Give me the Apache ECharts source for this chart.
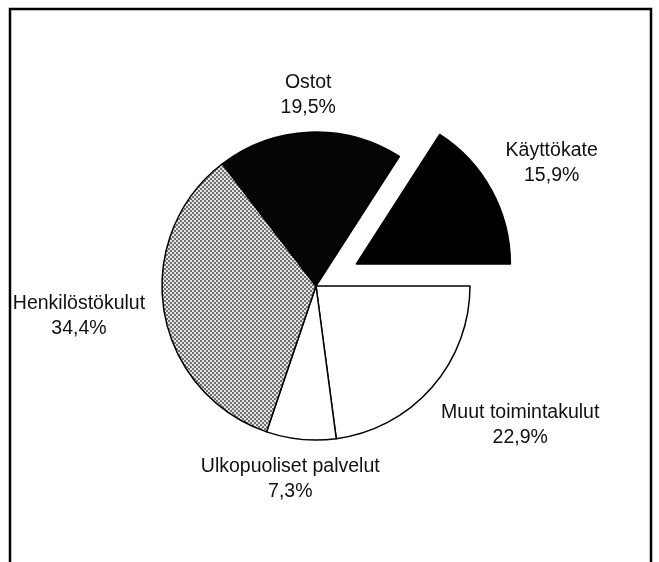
<!DOCTYPE html>
<html>
<head>
<meta charset="utf-8">
<script src="https://cdn.jsdelivr.net/npm/echarts@6/dist/echarts.min.js"></script>
<style>
html, body { margin: 0; padding: 0; background: #fff; }
#chart { width: 659px; height: 562px; }
</style>
</head>
<body>
<div id="chart"></div>
<script>
// kuluerät, myötäpäivään klo 3:sta alkaen
const names = ['Muut toimintakulut', 'Ulkopuoliset palvelut', 'Henkilöstökulut', 'Ostot', 'Käyttökate'];
const shares = [22.9, 7.3, 34.4, 19.5, 15.9];
const pulled = [false, false, false, false, true];

// label placement (distance from centre, small turn in degrees)
const labelDist = [247, 195, 239, 191, 220];
const labelTurn = [7, -2, -2, 0, -1.2];

const cx = 316, cy = 286, radius = 154, pullOut = 46;

function stipple() {
  const c = document.createElement('canvas');
  c.width = 4; c.height = 4;
  const g = c.getContext('2d');
  g.fillStyle = '#e4e4e4';
  g.fillRect(0, 0, 4, 4);
  g.fillStyle = '#707070';
  g.fillRect(0, 0, 2, 2);
  g.fillRect(2, 2, 2, 2);
  return c;
}

const fills = ['#ffffff', '#ffffff', { image: stipple(), repeat: 'repeat' }, '#050505', '#000000'];

const total = shares.reduce((a, b) => a + b, 0);
let acc = 0;
const mids = shares.map(v => {
  const m = -(acc + v / 2) / total * 360;
  acc += v;
  return m;
});

// second pie is shifted along the middle of the pulled-out slice
const pi = pulled.indexOf(true);
const pm = mids[pi] * Math.PI / 180;
const centers = [
  [cx, cy],
  [cx + pullOut * Math.cos(pm), cy - pullOut * Math.sin(pm)]
];

function layout(p) {
  const i = p.dataIndex;
  const c = centers[p.seriesIndex];
  const a = (mids[i] + labelTurn[i]) * Math.PI / 180;
  return {
    x: c[0] + labelDist[i] * Math.cos(a),
    y: c[1] - labelDist[i] * Math.sin(a),
    align: 'center',
    verticalAlign: 'middle'
  };
}

function pieSeries(s) {
  return {
    type: 'pie',
    center: centers[s],
    radius: radius,
    startAngle: 0,
    clockwise: true,
    silent: true,
    avoidLabelOverlap: false,
    emphasis: { disabled: true },
    label: {
      position: 'outside',
      fontFamily: 'Liberation Sans, Arial, sans-serif',
      fontSize: 19.5,
      lineHeight: 25,
      color: '#111',
      formatter: p => p.name + '\n' + p.value.toFixed(1).replace('.', ',') + '%'
    },
    labelLine: { show: false },
    labelLayout: layout,
    data: names.map((n, i) => {
      const shown = (s === 1) === pulled[i];
      return {
        name: n,
        value: shares[i],
        label: { show: shown },
        itemStyle: shown
          ? { color: fills[i], borderColor: '#000', borderWidth: 1.5 }
          : { color: 'rgba(0,0,0,0)', borderWidth: 0 }
      };
    })
  };
}

const chart = echarts.init(document.getElementById('chart'));
chart.setOption({
  animation: false,
  graphic: [{
    type: 'rect',
    shape: { x: 10, y: 9, width: 641, height: 600 },
    style: { fill: 'none', stroke: '#000', lineWidth: 2.5 }
  }],
  series: [pieSeries(0), pieSeries(1)]
});
</script>
</body>
</html>
